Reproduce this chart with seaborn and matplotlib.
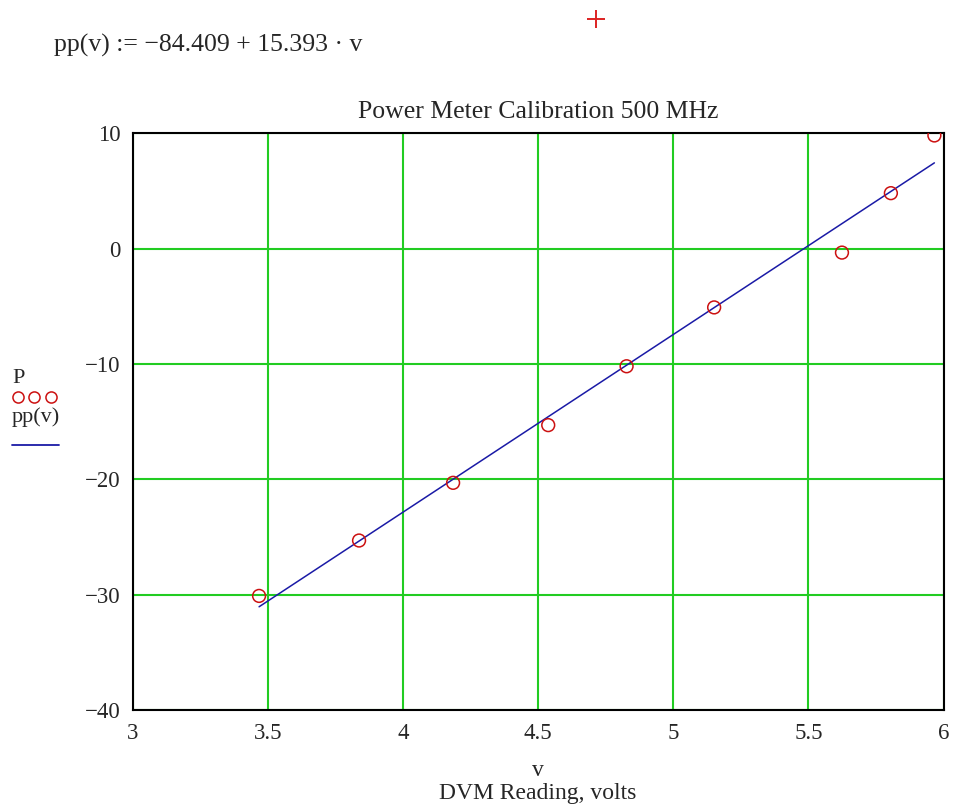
import numpy as np
import pandas as pd
import seaborn as sns
import matplotlib.pyplot as plt
from matplotlib.lines import Line2D

# measured calibration points (DVM volts, power dBm)
volts = [3.467, 3.837, 4.185, 4.537, 4.827, 5.151, 5.624, 5.805, 5.966]
power = [-30.1, -25.3, -20.3, -15.3, -10.2, -5.1, -0.35, 4.8, 9.8]

# fitted line pp(v) = a + b*v
fit_a = -84.409
fit_b = 15.393

x_ticks = [3, 3.5, 4, 4.5, 5, 5.5, 6]
x_labels = ['3', '3.5', '4', '4.5', '5', '5.5', '6']
y_ticks = [-40, -30, -20, -10, 0, 10]

sns.set_style('white')
plt.rcParams['font.family'] = ['Liberation Serif', 'DejaVu Serif']

df = pd.DataFrame({'v': volts, 'P': power})
fit_v = np.array([volts[0], volts[-1]])
fit_df = pd.DataFrame({'v': fit_v, 'pp': fit_a + fit_b * fit_v})

fig = plt.figure(figsize=(9.56, 8.07), dpi=100)
ax = fig.add_axes([0.139, 0.12, 0.848, 0.715])

sns.lineplot(data=fit_df, x='v', y='pp', color='#1a1aa6', linewidth=1.1, ax=ax, zorder=3)
sns.scatterplot(data=df, x='v', y='P', marker='o', s=85, facecolors='none',
                edgecolor='#cc1111', linewidth=1.1, ax=ax, zorder=4)

ax.set_xlim(3, 6)
ax.set_ylim(-40, 10)
ax.set_xticks(x_ticks)
ax.set_xticklabels(x_labels)
ax.set_yticks(y_ticks)
ax.grid(True, color='#22cc22', linewidth=1.5)
ax.set_axisbelow(True)
for s in ax.spines.values():
    s.set_color('black')
    s.set_linewidth(1.5)
ax.tick_params(axis='both', length=0, labelsize=16.5, pad=9)
ax.set_xlabel('')
ax.set_ylabel('')

ax.set_title('Power Meter Calibration 500 MHz', fontsize=18.5, pad=11)

# formula and stray marker from the worksheet
fig.text(0.057, 0.944, 'pp(v) := \u221284.409 + 15.393 \u00b7 v', fontsize=18.5, va='center')
fig.add_artist(Line2D([0.623], [0.977], linestyle='none', marker='+', markersize=13,
                      markeredgewidth=1.4, color='#dd2222'))

# Mathcad-style axis labels
fig.text(0.5625, 0.045, 'v', fontsize=17, ha='center', va='center')
fig.text(0.5625, 0.017, 'DVM Reading, volts', fontsize=17, ha='center', va='center')

fig.text(0.013, 0.531, 'P', fontsize=16, va='center')
fig.add_artist(Line2D([0.019, 0.036, 0.053], [0.508, 0.508, 0.508], linestyle='none',
                      marker='o', markersize=8, markerfacecolor='none',
                      markeredgecolor='#cc1111', markeredgewidth=1.1))
fig.text(0.012, 0.483, 'pp(v)', fontsize=16, va='center')
fig.add_artist(Line2D([0.013, 0.062], [0.449, 0.449], color='#1a1aa6', linewidth=1.3))

fig.savefig('out.png', dpi=100)
